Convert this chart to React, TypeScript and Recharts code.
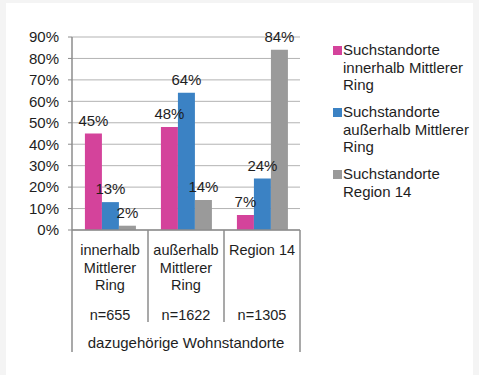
import React from 'react';
import { BarChart, Bar, XAxis, YAxis, CartesianGrid, LabelList } from 'recharts';

const categories = ['innerhalb Mittlerer Ring', 'außerhalb Mittlerer Ring', 'Region 14'];
const categoryLines = [['innerhalb', 'Mittlerer', 'Ring'], ['außerhalb', 'Mittlerer', 'Ring'], ['Region 14']];
const sampleSizes = ['n=655', 'n=1622', 'n=1305'];
const axisTitle = 'dazugehörige Wohnstandorte';
const seriesNames = [
  'Suchstandorte innerhalb Mittlerer Ring',
  'Suchstandorte außerhalb Mittlerer Ring',
  'Suchstandorte Region 14',
];
const seriesInnerhalb = [45, 48, 7];
const seriesAusserhalb = [13, 64, 24];
const seriesRegion = [2, 14, 84];
const yTicks = [0, 10, 20, 30, 40, 50, 60, 70, 80, 90];

const colors = ['#d4439b', '#3b82c4', '#9a9a9a'];
const FONT = '"Liberation Sans", Arial, Helvetica, sans-serif';
const LINE = '#8c8c8c';
const TEXT = '#1e1e1e';

const W = 479;
const H = 375;
const M = { top: 37, right: 179, bottom: 0, left: 0 };
const Y_W = 72;
const X_H = 145;
const PLOT_W = W - M.left - M.right - Y_W;

const data = categories.map((c, i) => ({
  name: c,
  s0: seriesInnerhalb[i],
  s1: seriesAusserhalb[i],
  s2: seriesRegion[i],
}));

const CategoryTick = (props: any) => {
  const { x, y, index } = props;
  const band = PLOT_W / categories.length;
  const lines = categoryLines[index] || [];
  const n = categories.length;
  return (
    <g>
      {lines.map((l, i) => (
        <text key={i} x={x} y={y + 25 + i * 17.5} textAnchor="middle" fontSize={14.5} fontFamily={FONT} fill={TEXT}>
          {l}
        </text>
      ))}
      <text x={x} y={y + 90} textAnchor="middle" fontSize={14.5} fontFamily={FONT} fill={TEXT}>
        {sampleSizes[index]}
      </text>
      {index < n - 1 && (
        <line x1={x + band / 2} x2={x + band / 2} y1={y} y2={y + 92} stroke={LINE} strokeWidth={1.5} />
      )}
      {index === 0 && (
        <>
          <line x1={x - band / 2} x2={x - band / 2} y1={y} y2={y + 122} stroke={LINE} strokeWidth={1.5} />
          <text x={x + band} y={y + 118} textAnchor="middle" fontSize={15} fontFamily={FONT} fill={TEXT}>
            {axisTitle}
          </text>
        </>
      )}
      {index === n - 1 && (
        <line x1={x + band / 2} x2={x + band / 2} y1={y} y2={y + 122} stroke={LINE} strokeWidth={1.5} />
      )}
    </g>
  );
};

export default function App() {
  return (
    <div style={{ position: 'absolute', left: 0, top: 0, width: W, height: H, background: '#f4f4f4' }}>
      <div style={{ position: 'absolute', left: 6, top: 3, width: 467, height: 372, background: '#ffffff' }} />
      <div style={{ position: 'absolute', left: 0, top: 0 }}>
        <BarChart width={W} height={H} data={data} margin={M} barCategoryGap="17%" barGap={0}>
          <CartesianGrid vertical={false} stroke="#b3b3b3" strokeWidth={1} />
          <XAxis
            dataKey="name"
            height={X_H}
            axisLine={{ stroke: LINE, strokeWidth: 1.5 }}
            tickLine={false}
            tickSize={0}
            tickMargin={0}
            interval={0}
            tick={(p: any) => <CategoryTick {...p} />}
          />
          <YAxis
            width={Y_W}
            domain={[0, 90]}
            ticks={yTicks}
            interval={0}
            tickFormatter={(v: number) => `${v}%`}
            axisLine={{ stroke: LINE, strokeWidth: 1.5 }}
            tickLine={{ stroke: LINE }}
            tickSize={4}
            tickMargin={9}
            tick={{ fontSize: 15, fontFamily: FONT, fill: TEXT }}
          />
          {['s0', 's1', 's2'].map((k, i) => (
            <Bar key={k} dataKey={k} name={seriesNames[i]} fill={colors[i]} isAnimationActive={false}>
              <LabelList
                dataKey={k}
                position="top"
                offset={8}
                formatter={(v: any) => `${v}%`}
                style={{ fontSize: 15, fontFamily: FONT, fill: TEXT }}
              />
            </Bar>
          ))}
        </BarChart>
      </div>
      <div style={{ position: 'absolute', left: 333, top: 41, width: 150, fontFamily: FONT, fontSize: 15, lineHeight: '17.5px', color: TEXT }}>
        {seriesNames.map((s, i) => (
          <div key={i} style={{ position: 'relative', paddingLeft: 10, marginBottom: 9.5 }}>
            <div style={{ position: 'absolute', left: 0, top: 4.5, width: 9, height: 9, background: colors[i] }} />
            {s}
          </div>
        ))}
      </div>
    </div>
  );
}
